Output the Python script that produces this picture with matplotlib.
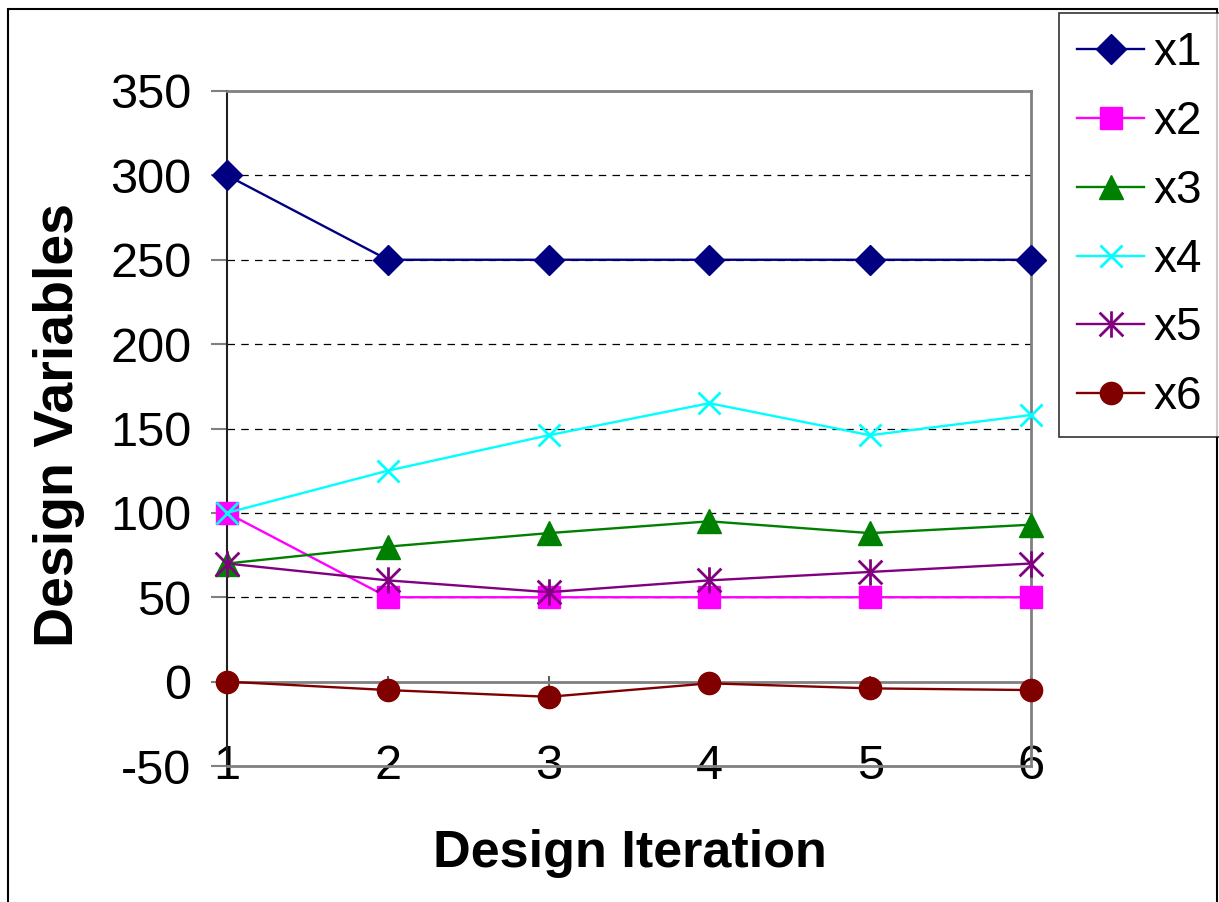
import matplotlib
matplotlib.use("Agg")
import matplotlib.pyplot as plt
from matplotlib.path import Path
from matplotlib.patches import Rectangle

plt.rcParams['font.family'] = ['Liberation Sans', 'DejaVu Sans']
plt.rcParams['axes.unicode_minus'] = False

iterations = [1, 2, 3, 4, 5, 6]
x1 = [300, 250, 250, 250, 250, 250]
x2 = [100, 50, 50, 50, 50, 50]
x3 = [70, 80, 88, 95, 88, 93]
x4 = [100, 125, 146, 165, 146, 158]
x5 = [70, 60, 53, 60, 65, 70]
x6 = [0, -5, -9, -1, -4, -5]
labels = ['x1', 'x2', 'x3', 'x4', 'x5', 'x6']
yticks = [-50, 0, 50, 100, 150, 200, 250, 300, 350]

star = Path([(-0.9, -0.9), (0.9, 0.9), (-0.9, 0.9), (0.9, -0.9), (0, -1.0), (0, 1.0)],
            [Path.MOVETO, Path.LINETO, Path.MOVETO, Path.LINETO, Path.MOVETO, Path.LINETO])

styles = [
    dict(color='#000080', marker='D', ms=15, mfc='#000080', mec='#000080'),
    dict(color='#FF00FF', marker='s', ms=16, mfc='#FF00FF', mec='#FF00FF'),
    dict(color='#008000', marker='^', ms=17, mfc='#008000', mec='#008000'),
    dict(color='#00FFFF', marker='x', ms=16, mew=2, mec='#00FFFF'),
    dict(color='#800080', marker=star, ms=19, mew=2, mec='#800080'),
    dict(color='#800000', marker='o', ms=16, mfc='#800000', mec='#800000'),
]

W, H = 1219, 902
fig = plt.figure(figsize=(W / 100, H / 100), dpi=100)
ax = fig.add_axes([227 / W, 1 - 766 / H, (1031 - 227) / W, (766 - 91) / H])

series = [x1, x2, x3, x4, x5, x6]
for vals, lab, st in zip(series, labels, styles):
    ax.plot(iterations, vals, lw=1.7, label=lab, clip_on=False, zorder=5, **st)

ax.set_xlim(1, 6)
ax.set_ylim(-50, 350)
ax.set_yticks(yticks)
ax.set_xticks(iterations)
for y in yticks[2:-1]:
    ax.axhline(y, color='black', lw=0.9, dashes=(6, 5), zorder=1)

for s in ['top', 'right', 'bottom']:
    ax.spines[s].set_color('#808080')
    ax.spines[s].set_linewidth(2)
ax.spines['left'].set_color('#202020')
ax.spines['left'].set_linewidth(1.5)

ax.tick_params(axis='y', direction='out', length=11.5, width=1.5, color='#808080',
               labelsize=35, pad=14)
ax.tick_params(axis='x', length=0, labelsize=35, pad=-16)
for t in ax.get_xticklabels():
    t.set_verticalalignment('top')

# zero axis line with crossing ticks
sec = ax.secondary_xaxis(0.125)
sec.set_xticks(iterations)
sec.spines['bottom'].set_color('#808080')
sec.spines['bottom'].set_linewidth(2)
sec.tick_params(direction='inout', length=8, width=1.5, color='#606060', labelbottom=False)

fig.text(630 / W, 1 - 853 / H, 'Design Iteration', fontsize=37.5, fontweight='bold',
         ha='center', va='center')
fig.text(59 / W, 1 - 425 / H, 'Design Variables', fontsize=40, fontweight='bold',
         ha='center', va='center', rotation=90)

leg = fig.legend(loc='upper left', bbox_to_anchor=(1059 / W, 1 - 13 / H), borderaxespad=0,
                 fontsize=33, frameon=True, fancybox=False, edgecolor='black',
                 handlelength=1.45, labelspacing=0.54, handletextpad=0.22,
                 borderpad=0.4, markerscale=1.0)
leg.get_frame().set_linewidth(1.2)

fig.patches.append(Rectangle((8 / W, -0.01), (1217 - 8) / W, 1 - 9 / H + 0.01,
                             transform=fig.transFigure, fill=False, edgecolor='black',
                             lw=1.5))

fig.savefig('out.png', dpi=100)
